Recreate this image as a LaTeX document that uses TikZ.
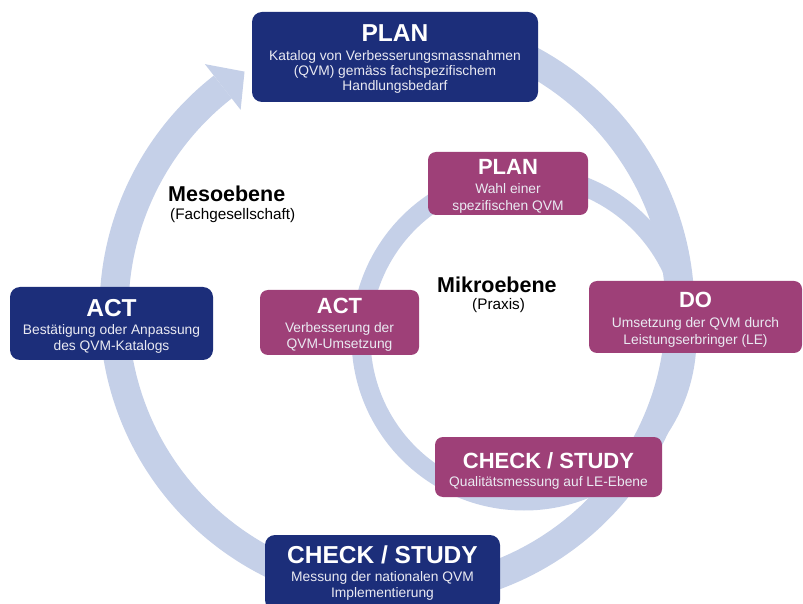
\documentclass[tikz,border=0pt]{standalone}
\usepackage{fontspec}
\setmainfont{Liberation Sans}
\definecolor{navy}{RGB}{28,46,122}
\definecolor{plum}{RGB}{158,64,120}
\definecolor{ringc}{RGB}{197,208,232}
\definecolor{subc}{RGB}{234,234,242}
\begin{document}
\begin{tikzpicture}[x=1pt,y=1pt,
  bigbox/.style={fill=navy, rounded corners=10pt, inner sep=0pt},
  smallbox/.style={fill=plum, rounded corners=8pt, inner sep=0pt},
  ttlL/.style={anchor=base, inner sep=0pt, text=white, font=\fontsize{24.5}{26}\selectfont\bfseries},
  ttlS/.style={anchor=base, inner sep=0pt, text=white, font=\fontsize{22}{24}\selectfont\bfseries},
  subt/.style={anchor=base, inner sep=0pt, text=subc, font=\fontsize{13.8}{15}\selectfont},
  lvl/.style={anchor=base west, inner sep=0pt, text=black, font=\fontsize{21.5}{23}\selectfont\bfseries},
  lvls/.style={anchor=base west, inner sep=0pt, text=black, font=\fontsize{15.3}{17}\selectfont},
  ringline/.style={draw=ringc}
]
\useasboundingbox (0,0) rectangle (803,603);
\clip (0,0) rectangle (803,603);
\fill[white] (0,0) rectangle (803,603);

% ring centres
\coordinate (Oout) at (397,293);
\coordinate (Oin) at (524,265);

% inner (micro) ring
\draw[ringline, line width=19pt] (Oin) circle[radius=163];
% outer (meso) ring with arrow head
\draw[ringline, line width=29pt] ([shift={(90:283)}]Oout) arc[start angle=90, end angle=-232, radius=283];
\fill[ringc] ([shift={(128:254)}]Oout) -- ([shift={(128:312)}]Oout) -- ([shift={(122.6:283)}]Oout) -- cycle;

% Meso level boxes
\node[bigbox, minimum width=286pt, minimum height=90pt] (planM) at (395,546) {};
\node[ttlL] (planMt) at (395,561) {PLAN};
\node[subt] (planMs1) at (395,542) {Katalog von Verbesserungsmassnahmen};
\node[subt] (planMs2) at (395,527) {(QVM) gemäss fachspezifischem};
\node[subt] (planMs3) at (395,512) {Handlungsbedarf};

\node[bigbox, minimum width=203pt, minimum height=73pt] (actM) at (111.5,279.5) {};
\node[ttlL] (actMt) at (111.5,286) {ACT};
\node[subt] (actMs1) at (111.5,268.5) {Bestätigung oder Anpassung};
\node[subt] (actMs2) at (111.5,252) {des QVM-Katalogs};

\node[bigbox, minimum width=235pt, minimum height=75pt] (chkM) at (382.5,30.5) {};
\node[ttlL] (chkMt) at (382.5,40) {CHECK / STUDY};
\node[subt] (chkMs1) at (382.5,21.5) {Messung der nationalen QVM};
\node[subt] (chkMs2) at (382.5,6) {Implementierung};

% Micro level boxes
\node[smallbox, minimum width=160pt, minimum height=63pt] (planP) at (508,419.5) {};
\node[ttlS] (planPt) at (508,428) {PLAN};
\node[subt] (planPs1) at (508,409) {Wahl einer};
\node[subt] (planPs2) at (508,392.5) {spezifischen QVM};

\node[smallbox, minimum width=159pt, minimum height=65pt] (actP) at (339.5,280.5) {};
\node[ttlS] (actPt) at (339.5,289) {ACT};
\node[subt] (actPs1) at (339.5,270) {Verbesserung der};
\node[subt] (actPs2) at (339.5,254) {QVM-Umsetzung};

\node[smallbox, minimum width=213pt, minimum height=72pt] (doP) at (695.5,286) {};
\node[ttlS] (doPt) at (695.5,295) {DO};
\node[subt] (doPs1) at (695.5,275) {Umsetzung der QVM durch};
\node[subt] (doPs2) at (695.5,258.5) {Leistungserbringer (LE)};

\node[smallbox, minimum width=227pt, minimum height=60pt] (chkP) at (548.5,136) {};
\node[ttlS] (chkPt) at (548.5,135) {CHECK / STUDY};
\node[subt] (chkPs1) at (548.5,116.3) {Qualitätsmessung auf LE-Ebene};

% level labels
\node[lvl] (meso) at (168,401.3) {Mesoebene};
\node[lvls] (mesos) at (170,383) {(Fachgesellschaft)};
\node[lvl] (mikro) at (437,310) {Mikroebene};
\node[lvls] (mikros) at (472,293) {(Praxis)};
\end{tikzpicture}
\end{document}
